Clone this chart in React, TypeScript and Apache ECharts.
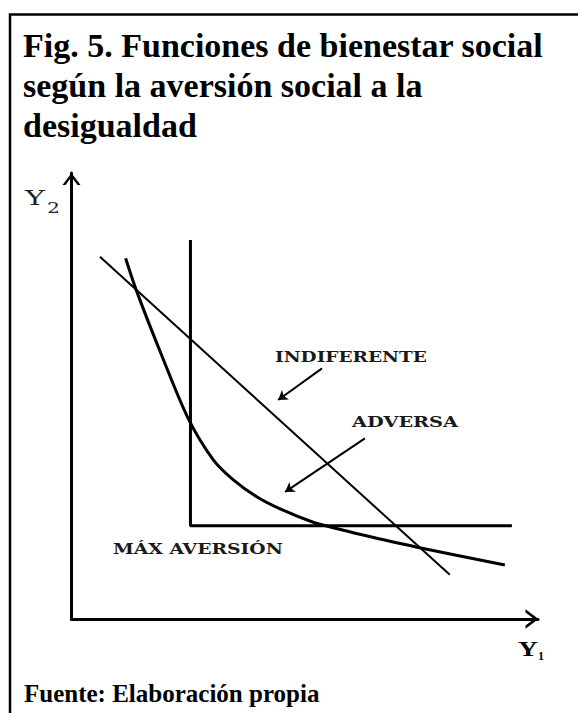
import React, { useEffect, useRef } from "react";
import * as echarts from "echarts";

// ---- content ----
const titleText = "Fig. 5. Funciones de bienestar social\nsegún la aversión social a la\ndesigualdad";
const sourceText = "Fuente: Elaboración propia";
const yAxisName = ["Y", "2"];
const xAxisName = ["Y", "1"];

// ---- data (axis units 0..10) ----
const maxAversion: number[][] = [
  [2.55, 8.5],
  [2.55, 2.09],
  [9.44, 2.09],
];
const indifferent: number[][] = [
  [0.61, 8.12],
  [8.11, 0.99],
];
const adverse: number[][] = [
  [1.16, 8.09],
  [1.4, 7.34],
  [1.93, 5.92],
  [2.5, 4.5],
  [3.04, 3.57],
  [3.47, 3.12],
  [3.97, 2.74],
  [4.51, 2.45],
  [5.18, 2.17],
  [5.68, 2.03],
  [6.18, 1.9],
  [7.41, 1.61],
  [9.29, 1.21],
];
const arrowFrom: number[][] = [
  [5.37, 5.62],
  [6.29, 4.05],
];
const arrowTo: number[][] = [
  [4.43, 4.91],
  [4.58, 2.85],
];
const curveLabels = ["INDIFERENTE", "ADVERSA", "MÁX AVERSIÓN"];
const curveLabelAt: number[][] = [
  [5.99, 5.86],
  [7.15, 4.41],
  [2.71, 1.58],
];
// visual width in px of each label (layout)
const curveLabelWidth = [152, 106, 170];

const LABEL_FONT = 'bold 14px "DejaVu Serif"';

function measure(text: string, font: string): number {
  const c = document.createElement("canvas");
  const ctx = c.getContext("2d");
  if (!ctx) return text.length * 9;
  ctx.font = font;
  return ctx.measureText(text).width;
}

const chevron = "path://M0,12 L9,0 L18,12 L15,12 L9,4 L3,12 Z";

export default function App() {
  const ref = useRef<HTMLDivElement>(null);
  useEffect(() => {
    if (!ref.current) return;
    const chart = echarts.init(ref.current, null, { renderer: "svg" });
    const axisCommon = {
      type: "value" as const,
      min: 0,
      max: 10,
      axisTick: { show: false },
      axisLabel: { show: false },
      splitLine: { show: false },
    };
    chart.setOption({
      animation: false,
      backgroundColor: "#fff",
      title: [
        {
          text: titleText,
          left: 18,
          top: 20,
          textStyle: {
            fontFamily: '"Liberation Serif"',
            fontWeight: "bold",
            fontSize: 34,
            lineHeight: 40,
            color: "#000",
          },
        },
        {
          text: sourceText,
          left: 19,
          top: 676,
          textStyle: {
            fontFamily: '"Liberation Serif"',
            fontWeight: "bold",
            fontSize: 25,
            color: "#000",
          },
        },
      ],
      grid: { left: 71.5, top: 173, width: 466.5, height: 446, outerBoundsMode: "none" },
      xAxis: {
        ...axisCommon,
        axisLine: {
          show: true,
          onZero: false,
          symbol: ["none", chevron],
          symbolSize: [20, 13],
          symbolOffset: [0, -6],
          lineStyle: { color: "#000", width: 3 },
        },
      },
      yAxis: {
        ...axisCommon,
        axisLine: {
          show: true,
          onZero: false,
          symbol: ["none", chevron],
          symbolSize: [18, 12],
          symbolOffset: [0, -6],
          lineStyle: { color: "#000", width: 3 },
        },
      },
      series: [
        {
          name: "Máx aversión",
          type: "line",
          data: maxAversion,
          symbol: "none",
          lineStyle: { color: "#000", width: 3 },
          clip: false,
        },
        {
          name: "Indiferente",
          type: "line",
          data: indifferent,
          symbol: "none",
          lineStyle: { color: "#000", width: 2 },
          clip: false,
        },
        {
          name: "Adversa",
          type: "line",
          data: adverse,
          symbol: "none",
          smooth: 0.3,
          lineStyle: { color: "#000", width: 3 },
          clip: false,
        },
        {
          name: "Flechas",
          type: "lines",
          coordinateSystem: "cartesian2d",
          symbol: ["none", "arrow"],
          symbolSize: 9,
          lineStyle: { color: "#000", width: 2, opacity: 1 },
          data: arrowFrom.map((f, i) => ({ coords: [f, arrowTo[i]] })),
        },
      ],
    });

    const toPx = (p: number[]) => chart.convertToPixel({ gridIndex: 0 }, p) as number[];
    const graphics: any[] = [
      {
        type: "polyline",
        shape: { points: [[10, 713], [10, 14.5], [578, 14.5]] },
        style: { stroke: "#000", lineWidth: 2.5, fill: null },
        z: 10,
      },
    ];
    curveLabels.forEach((t, i) => {
      const [x, y] = toPx(curveLabelAt[i]);
      const w = measure(t, LABEL_FONT);
      graphics.push({
        type: "text",
        x,
        y,
        scaleX: curveLabelWidth[i] / w,
        style: {
          text: t,
          font: LABEL_FONT,
          fill: "#1a1a1a",
          align: "center",
          verticalAlign: "middle",
        },
      });
    });
    // Y2 label
    graphics.push({
      type: "text",
      x: 25,
      y: 197.5,
      scaleX: 1.5,
      style: { text: yAxisName[0], font: '20px "DejaVu Serif"', fill: "#222", align: "left", verticalAlign: "middle" },
    });
    graphics.push({
      type: "text",
      x: 47,
      y: 207.5,
      scaleX: 1.35,
      style: { text: yAxisName[1], font: '15px "DejaVu Serif"', fill: "#222", align: "left", verticalAlign: "middle" },
    });
    // Y1 label
    graphics.push({
      type: "text",
      x: 518,
      y: 648.5,
      scaleX: 1.25,
      style: { text: xAxisName[0], font: 'bold 22px "Liberation Serif"', fill: "#000", align: "left", verticalAlign: "middle" },
    });
    graphics.push({
      type: "text",
      x: 538,
      y: 656,
      style: { text: xAxisName[1], font: 'bold 12px "Liberation Serif"', fill: "#000", align: "left", verticalAlign: "middle" },
    });
    chart.setOption({ graphic: graphics });
    return () => chart.dispose();
  }, []);
  return (
    <div
      ref={ref}
      style={{ position: "fixed", left: 0, top: 0, width: 578, height: 713, background: "#fff" }}
    />
  );
}
